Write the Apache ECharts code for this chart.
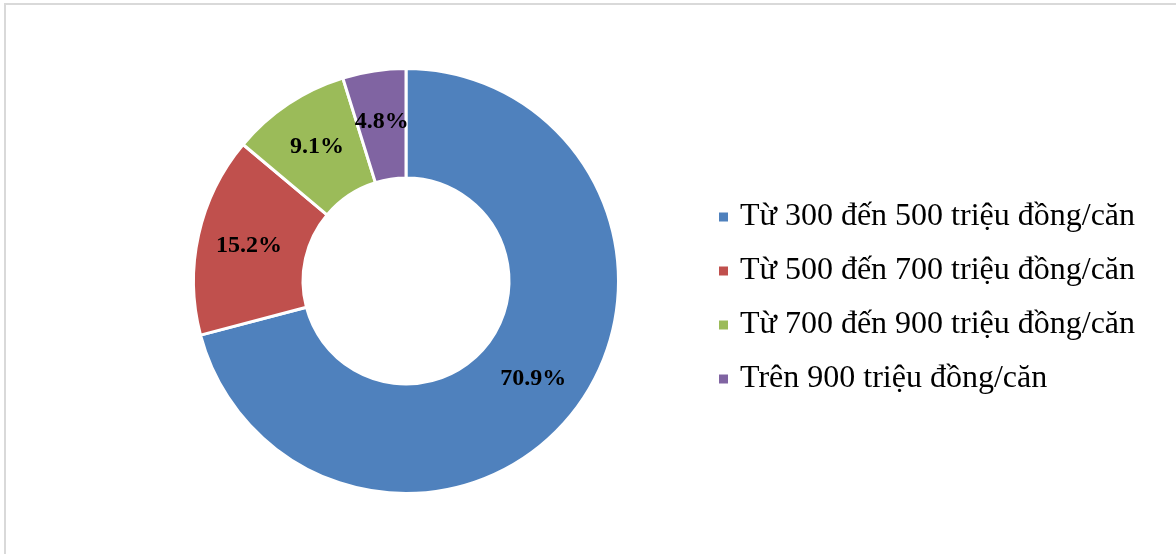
<!DOCTYPE html>
<html>
<head>
<meta charset="utf-8">
<script src="https://cdn.jsdelivr.net/npm/echarts@6/dist/echarts.min.js"></script>
<style>
  html, body { margin: 0; padding: 0; background: #fff; }
  #chart { width: 1176px; height: 554px; }
</style>
</head>
<body>
<div id="chart"></div>
<script>
const categories = [
  "Từ 300 đến 500 triệu đồng/căn",
  "Từ 500 đến 700 triệu đồng/căn",
  "Từ 700 đến 900 triệu đồng/căn",
  "Trên 900 triệu đồng/căn"
];
const shares = [70.9, 15.2, 9.1, 4.8];
const colors = ["#4F81BD", "#C0504D", "#9BBB59", "#8064A2"];

const myChart = echarts.init(document.getElementById("chart"));
const option = {
  color: colors,
  animation: false,
  graphic: [
    {
      type: "rect",
      shape: { x: 5, y: 4, width: 1300, height: 700 },
      style: { fill: "none", stroke: "#d9d9d9", lineWidth: 2 },
      silent: true
    }
  ],
  legend: {
    orient: "vertical",
    left: 717,
    top: 201,
    padding: 0,
    icon: "rect",
    itemWidth: 11,
    itemHeight: 11,
    itemGap: 22,
    textStyle: {
      fontFamily: "Liberation Serif",
      fontSize: 32,
      lineHeight: 32,
      color: "#000",
      padding: [0, 0, 0, 6]
    },
    data: categories
  },
  series: [
    {
      type: "pie",
      center: [406, 281],
      radius: [103, 212.5],
      startAngle: 90,
      clockwise: true,
      itemStyle: { borderColor: "#fff", borderWidth: 3 },
      label: {
        show: true,
        position: "inside",
        formatter: (p) => p.value.toFixed(1) + "%",
        fontFamily: "Liberation Serif",
        fontWeight: "bold",
        fontSize: 24,
        color: "#000"
      },
      labelLine: { show: false },
      emphasis: { disabled: true },
      data: categories.map((name, i) => ({ name: name, value: shares[i] }))
    }
  ]
};
myChart.setOption(option);
</script>
</body>
</html>
